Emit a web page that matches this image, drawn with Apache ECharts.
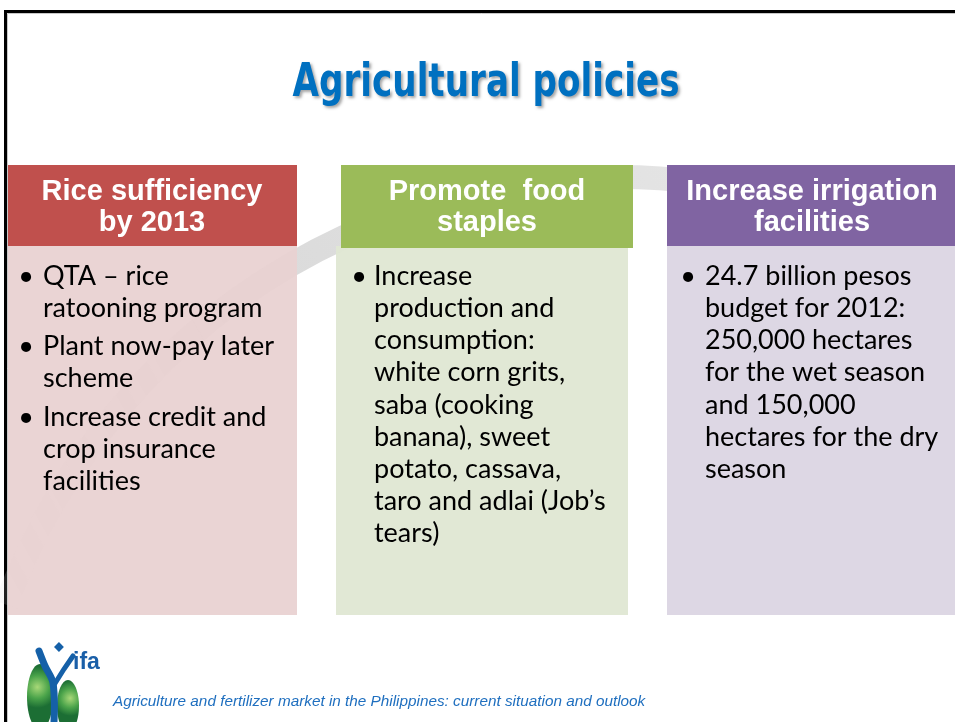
<!DOCTYPE html>
<html>
<head>
<meta charset="utf-8">
<script src="https://cdn.jsdelivr.net/npm/echarts@6/dist/echarts.min.js"></script>
<style>
  html, body { margin: 0; padding: 0; background: #fff; }
  #chart { width: 955px; height: 722px; }
</style>
</head>
<body>
<div id="chart"></div>
<script>
// slide texts
const titleText = 'Agricultural policies'
const footerText = 'Agriculture and fertilizer market in the Philippines: current situation and outlook'
const logoText = 'ifa'
const headers = [
  ['Rice sufficiency', 'by 2013'],
  ['Promote  food', 'staples'],
  ['Increase irrigation', 'facilities'],
]
const riceBullets = [
  ['QTA – rice', 'ratooning program'],
  ['Plant now-pay later', 'scheme'],
  ['Increase credit and', 'crop insurance', 'facilities'],
]
const stapleBullets = [
  ['Increase', 'production and', 'consumption:', 'white corn grits,', 'saba (cooking',
   'banana), sweet', 'potato, cassava,', 'taro and adlai (Job’s', 'tears)'],
]
const irrigationBullets = [
  ['24.7 billion pesos', 'budget for 2012:', '250,000 hectares', 'for the wet season',
   'and 150,000', 'hectares for the dry', 'season'],
]
const bulletLists = [riceBullets, stapleBullets, irrigationBullets]

// layout of the three columns
const columns = [
  { hx: 8, hw: 289, hh: 81, bx: 8, bw: 289, tx: 152, dot: 26, text: 43,
    head: '#C0504D', body: 'rgba(233,209,209,0.94)' },
  { hx: 341, hw: 292, hh: 83, bx: 336, bw: 292, tx: 487, dot: 359, text: 374,
    head: '#9BBB59', body: 'rgba(223,231,211,0.95)' },
  { hx: 667, hw: 300, hh: 81, bx: 667, bw: 300, tx: 812, dot: 688, text: 705,
    head: '#8064A2', body: 'rgba(219,213,227,0.95)' },
]
const headTop = 165
const bodyTop = 246
const bodyBottom = 615
const lineH = 32.2
const bulletGap = 6
const bodyFont = '27px Lato, sans-serif'
const titleFont = 'bold 46px "DejaVu Sans Condensed", "DejaVu Sans", sans-serif'
const titleWidth = 387

const chart = echarts.init(document.getElementById('chart'))

const measure = document.createElement('canvas').getContext('2d')
measure.font = titleFont
const titleScale = titleWidth / measure.measureText(titleText).width

const elements = []

// slide frame
elements.push({
  type: 'rect', z: 1,
  shape: { x: 5.5, y: 11.5, width: 1000, height: 800 },
  style: { fill: 'none', stroke: '#000', lineWidth: 3 },
})
elements.push({
  type: 'polyline', z: 1,
  shape: { points: [[7.5, 800], [7.5, 13.5], [960, 13.5]] },
  style: { fill: 'none', stroke: '#c8c8c8', lineWidth: 1 },
})

// big grey arc behind the boxes
elements.push({
  type: 'arc', z: 2,
  shape: {
    cx: 617, cy: 827, r: 650,
    startAngle: -160 * Math.PI / 180, endAngle: -75 * Math.PI / 180, clockwise: true,
  },
  style: {
    fill: 'none', lineWidth: 24,
    stroke: new echarts.graphic.LinearGradient(0, 1, 1, 0, [
      { offset: 0, color: 'rgba(218,218,218,0.1)' },
      { offset: 0.4, color: 'rgba(218,218,218,1)' },
      { offset: 1, color: 'rgba(230,230,230,1)' },
    ]),
  },
})

// title
elements.push({
  type: 'text', z: 10, x: 486, y: 84, scaleX: titleScale,
  style: {
    text: titleText, x: 0, y: 0,
    align: 'center', verticalAlign: 'middle', textAlign: 'center', textVerticalAlign: 'middle',
    font: titleFont,
    fill: '#0070C0',
    textShadowColor: 'rgba(0,0,0,0.35)', textShadowBlur: 3, textShadowOffsetX: 2, textShadowOffsetY: 2,
  },
})

columns.forEach((c, i) => {
  // body
  elements.push({
    type: 'rect', z: 3,
    shape: { x: c.bx, y: bodyTop, width: c.bw, height: bodyBottom - bodyTop },
    style: { fill: c.body },
  })
  // header
  elements.push({
    type: 'rect', z: 4,
    shape: { x: c.hx, y: headTop, width: c.hw, height: c.hh },
    style: { fill: c.head },
  })
  headers[i].forEach((t, k) => {
    elements.push({
      type: 'text', z: 5,
      style: {
        text: t, x: c.tx, y: 192 + k * 31,
        align: 'center', verticalAlign: 'middle', textAlign: 'center', textVerticalAlign: 'middle',
        font: 'bold 29px "Liberation Sans", Arial, sans-serif',
        fill: '#fff',
      },
    })
  })
  // bullets
  let y = 276
  bulletLists[i].forEach((lines) => {
    elements.push({
      type: 'text', z: 5,
      style: {
        text: '•', x: c.dot, y: y,
        align: 'center', verticalAlign: 'middle', textAlign: 'center', textVerticalAlign: 'middle',
        font: bodyFont, fill: '#000',
      },
    })
    lines.forEach((t) => {
      elements.push({
        type: 'text', z: 5,
        style: {
          text: t, x: c.text, y: y,
          align: 'left', verticalAlign: 'middle', textAlign: 'left', textVerticalAlign: 'middle',
          font: bodyFont, fill: '#000',
        },
      })
      y += lineH
    })
    y += bulletGap
  })
})

// ifa logo
const leafFill = (fx) => new echarts.graphic.RadialGradient(fx, 0.35, 0.8, [
  { offset: 0, color: '#a8d878' },
  { offset: 0.55, color: '#4aa34a' },
  { offset: 1, color: '#1c6e34' },
])
elements.push({
  type: 'ellipse', z: 6,
  shape: { cx: 40, cy: 697, rx: 13, ry: 33 },
  style: { fill: leafFill(0.4) },
})
elements.push({
  type: 'ellipse', z: 6,
  shape: { cx: 68, cy: 706, rx: 11, ry: 26 },
  style: { fill: leafFill(0.6) },
})
elements.push({
  type: 'polyline', z: 7,
  shape: { points: [[39, 651], [45, 666], [53, 683], [54, 722]], smooth: 0.35 },
  style: { fill: 'none', stroke: '#1560a8', lineWidth: 7, lineCap: 'round' },
})
elements.push({
  type: 'polyline', z: 7,
  shape: { points: [[54, 685], [64, 669], [73, 656]] },
  style: { fill: 'none', stroke: '#1560a8', lineWidth: 5, lineCap: 'round' },
})
elements.push({
  type: 'rect', z: 7, rotation: Math.PI / 4, x: 54, y: 647,
  shape: { x: 0, y: 0, width: 7, height: 7 },
  style: { fill: '#1560a8' },
})
elements.push({
  type: 'text', z: 7,
  style: {
    text: logoText, x: 73, y: 663,
    align: 'left', verticalAlign: 'middle', textAlign: 'left', textVerticalAlign: 'middle',
    font: 'bold 23px "Liberation Sans", Arial, sans-serif', fill: '#1a5fa8',
  },
})

// footer
elements.push({
  type: 'text', z: 7,
  style: {
    text: footerText, x: 113, y: 702,
    align: 'left', verticalAlign: 'middle', textAlign: 'left', textVerticalAlign: 'middle',
    font: 'italic 15.3px "Liberation Sans", Arial, sans-serif', fill: '#1f6fbf',
  },
})

const option = {
  animation: false,
  graphic: { elements: elements },
}

option && chart.setOption(option)
</script>
</body>
</html>
